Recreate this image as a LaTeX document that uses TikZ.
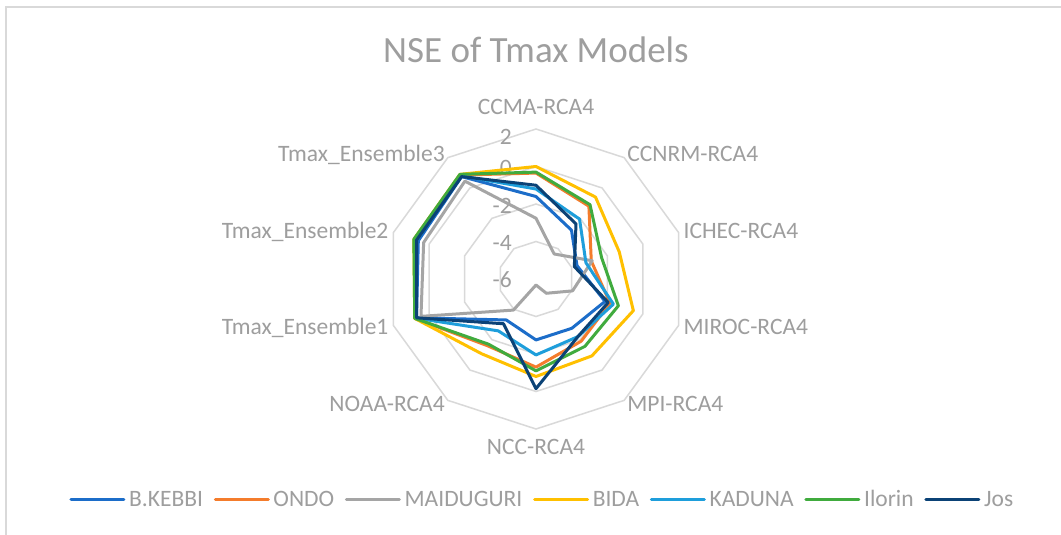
\documentclass[tikz,border=0pt]{standalone}
\usepackage{fontspec}
\setmainfont{Carlito}
\usepackage{xcolor}
\definecolor{labeltext} {HTML}{9E9E9E}
\definecolor{gridgray}  {HTML}{D9D9D9}
\definecolor{kebbi}     {HTML}{1C6DC9}
\definecolor{ondo}      {HTML}{F47C2C}
\definecolor{maiduguri} {HTML}{A5A5A5}
\definecolor{bida}      {HTML}{FFC000}
\definecolor{kaduna}    {HTML}{1E9EDB}
\definecolor{ilorin}    {HTML}{40AB3E}
\definecolor{jos}       {HTML}{0B4276}
\usetikzlibrary{positioning}
\tikzset{
    ring/.style={draw=gridgray, line width=1.5pt},
    chartframe/.style={draw=gridgray, line width=1.5pt},
    nseline/.style={line width=3pt, line join=round},
    axlabel/.style={font=\fontsize{23.5}{28}\selectfont, text=labeltext,
                    inner sep=0pt, text height=15.1pt, text depth=0pt},
    ticklabel/.style={axlabel, anchor=east},
    legline/.style={line width=3pt, line cap=round},
    legtext/.style={axlabel, anchor=west},
    charttitle/.style={font=\fontsize{37}{44}\selectfont, text=labeltext,
                       inner sep=0pt},
}
% one closed series: colour, value on CCMA-RCA4, values on the other nine axes
\newcommand{\nseseries}[3]{%
    \draw[nseline, #1] (90:{(#2+6)*18.75})
        foreach \v [count=\k] in {#3} { -- ({90-36*\k}:{(\v+6)*18.75}) } -- cycle;}

\begin{document}
\begin{tikzpicture}[x=1pt, y=1pt]
    \useasboundingbox[fill=white] (-536,-256) rectangle (525,279);
    \draw[chartframe] (-530,-256) -- (-530,272) -- (525,272);
    \node[charttitle, anchor=base] (title) at (0,216) {NSE of Tmax Models};
    % rings at -4, -2, 0, 2 (centre is -6)
    \foreach \g in {-4,-2,0,2}
        \draw[ring] (90:{(\g+6)*18.75})
            foreach \k in {1,...,9} { -- ({90-36*\k}:{(\g+6)*18.75}) } -- cycle;
    % value labels
    \foreach \t/\y [count=\i] in {2/142, 0/111, -2/73, -4/36, -6/-1}
        \node[ticklabel] (tick\i) at (-24,\y) {\t};
    % axis labels
    \foreach \lab/\ang/\rad/\anc [count=\k] in {CCMA-RCA4/90/164/south,
            CCNRM-RCA4/54/155/west, ICHEC-RCA4/18/155/west,
            MIROC-RCA4/-18/155/west, MPI-RCA4/-54/155/west,
            NCC-RCA4/-90/160/north, NOAA-RCA4/-126/155/east,
            Tmax\_Ensemble1/-162/155/east, Tmax\_Ensemble2/162/155/east,
            Tmax\_Ensemble3/126/155/east}
        \node[axlabel, anchor=\anc] (axis\k) at (\ang:\rad) {\lab};
    % series
    \nseseries{kebbi}{-1.6}{-2.78,-3.7,-2.13,-2.75,-2.75,-3.3,0.7,0.6,0.75}
    \nseseries{ondo}{-0.35}{-1.2,-2.9,-1.85,-1.9,-1.3,-1.6,0.8,0.8,0.85}
    \nseseries{maiduguri}{-2.76}{-4.35,-2.85,-3.95,-5.06,-5.68,-3.95,0.45,0.3,0.45}
    \nseseries{bida}{0}{-0.6,-1.33,-0.54,-0.93,-0.8,-1.07,0.8,0.85,0.9}
    \nseseries{kaduna}{-1.2}{-2.05,-3.2,-1.66,-2.2,-1.95,-2.58,0.75,0.7,0.8}
    \nseseries{ilorin}{-0.3}{-1.1,-2.32,-1.38,-1.56,-1.1,-1.7,0.8,0.85,0.9}
    \nseseries{jos}{-1.0}{-2.37,-3.85,-1.95,-2.2,-0.15,-3.05,0.7,0.7,0.75}
    % legend
    \draw[legline, kebbi] (-465,-220) coordinate (kebbiA) -- ++(53,0) coordinate (kebbiB);
    \node[legtext, right=5pt of kebbiB] (kebbiT) {B.KEBBI};
    \draw[legline, ondo] ([xshift=12pt]kebbiT.east) -- ++(53,0) coordinate (ondoB);
    \node[legtext, right=5pt of ondoB] (ondoT) {ONDO};
    \draw[legline, maiduguri] ([xshift=12pt]ondoT.east) -- ++(53,0) coordinate (maidB);
    \node[legtext, right=5pt of maidB] (maidT) {MAIDUGURI};
    \draw[legline, bida] ([xshift=12pt]maidT.east) -- ++(53,0) coordinate (bidaB);
    \node[legtext, right=5pt of bidaB] (bidaT) {BIDA};
    \draw[legline, kaduna] ([xshift=12pt]bidaT.east) -- ++(53,0) coordinate (kadB);
    \node[legtext, right=5pt of kadB] (kadT) {KADUNA};
    \draw[legline, ilorin] ([xshift=12pt]kadT.east) -- ++(53,0) coordinate (ilorinB);
    \node[legtext, right=5pt of ilorinB] (ilorinT) {Ilorin};
    \draw[legline, jos] ([xshift=12pt]ilorinT.east) -- ++(53,0) coordinate (josB);
    \node[legtext, right=5pt of josB] (josT) {Jos};
\end{tikzpicture}
\end{document}
